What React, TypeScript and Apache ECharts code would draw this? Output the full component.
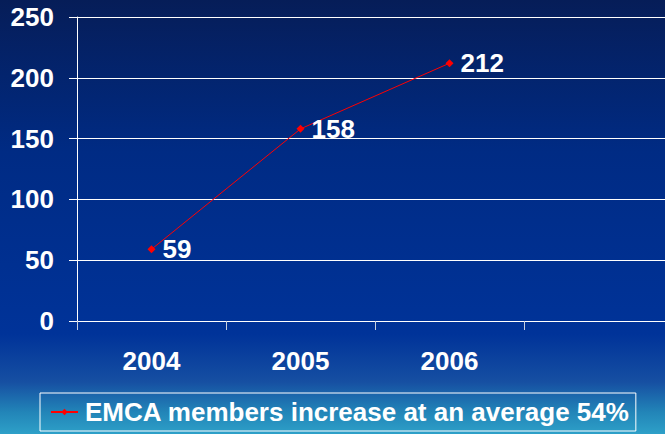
import React, { useEffect, useRef } from "react";
import * as echarts from "echarts";

const years = ["2004", "2005", "2006", ""];
const members = [59, 158, 212, null];
const seriesName = "EMCA members increase at an average 54%";

const FONT = '"Liberation Sans", Arial, sans-serif';

export default function App() {
  const ref = useRef<HTMLDivElement>(null);
  useEffect(() => {
    if (!ref.current) return;
    const chart = echarts.init(ref.current, undefined, { renderer: "svg" });
    chart.setOption({
      animation: false,
      backgroundColor: {
        type: "linear",
        x: 0,
        y: 0,
        x2: 0,
        y2: 1,
        colorStops: [
          { offset: 0, color: "#061d58" },
          { offset: 0.35, color: "#002b84" },
          { offset: 0.77, color: "#003399" },
          { offset: 0.88, color: "#164fa2" },
          { offset: 0.95, color: "#2285b8" },
          { offset: 1, color: "#2ea0c8" },
        ],
      },
      textStyle: { fontFamily: FONT },
      grid: { left: 77, top: 17, width: 596, height: 304, containLabel: false },
      legend: {
        data: [{ name: seriesName }],
        left: 40,
        top: 393,
        borderColor: "#ffffff",
        borderWidth: 1,
        padding: [6, 6, 6, 10],
        itemWidth: 27,
        itemHeight: 8,
        itemGap: 10,
        textStyle: {
          color: "#ffffff",
          fontFamily: FONT,
          fontWeight: "bold",
          fontSize: 26,
          padding: [0, 0, 0, 2],
        },
      },
      xAxis: {
        type: "category",
        data: years,
        boundaryGap: true,
        axisLine: { show: true, lineStyle: { color: "#ffffff", width: 1 } },
        axisTick: { show: true, length: 9, lineStyle: { color: "#c8d0e0" } },
        axisLabel: {
          color: "#ffffff",
          fontFamily: FONT,
          fontWeight: "bold",
          fontSize: 26,
          margin: 27,
        },
        splitLine: { show: false },
      },
      yAxis: {
        type: "value",
        min: 0,
        max: 250,
        interval: 50,
        axisLine: { show: true, lineStyle: { color: "#ffffff", width: 1 } },
        axisTick: { show: true, length: 8, lineStyle: { color: "#ffffff" } },
        axisLabel: {
          color: "#ffffff",
          fontFamily: FONT,
          fontWeight: "bold",
          fontSize: 26,
          margin: 23,
        },
        splitLine: { show: true, lineStyle: { color: "#ffffff", width: 1 } },
      },
      series: [
        {
          name: seriesName,
          type: "line",
          data: members,
          symbol: "diamond",
          symbolSize: 8,
          connectNulls: false,
          lineStyle: { color: "#ff0000", width: 1 },
          itemStyle: { color: "#ff0000" },
          label: {
            show: true,
            position: "right",
            distance: 7,
            color: "#ffffff",
            fontFamily: FONT,
            fontWeight: "bold",
            fontSize: 26,
          },
        },
      ],
    });
    return () => chart.dispose();
  }, []);
  return (
    <div
      ref={ref}
      style={{ position: "fixed", left: 0, top: 0, width: 690, height: 434 }}
    />
  );
}
